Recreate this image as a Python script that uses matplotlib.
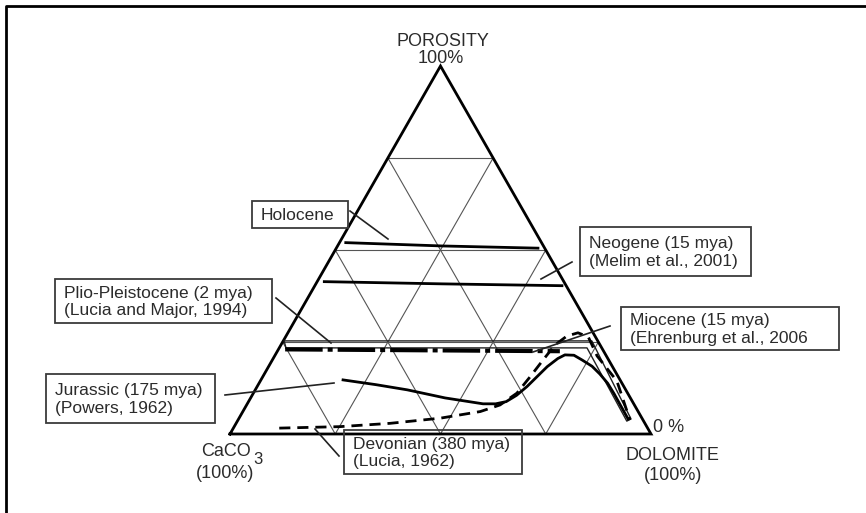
import matplotlib.pyplot as plt
import matplotlib.patches as patches
from matplotlib.lines import Line2D
import numpy as np

plt.rcParams['font.family'] = ['Liberation Sans', 'DejaVu Sans']

# ternary data: dolomite (%) and porosity (%), CaCO3 = rest
holocene_dol = [1.5, 24.8, 47.9]
holocene_por = [52.0, 51.1, 50.5]

neogene_dol = [1.7, 30.0, 58.7]
neogene_por = [41.4, 40.8, 40.3]

miocene_dol = [1.6, 67.1]
miocene_por = [23.0, 22.5]

plio_dol = [1.6, 73.1, 92.5, 93.2, 73.3, 0.2, 1.6]
plio_por = [23.4, 23.4, 3.5, 4.1, 25.3, 25.3, 23.4]

jurassic_dol = [19.5, 28.0, 36.1, 46.2, 56.0, 59.0, 61.2, 62.8, 64.1, 66.2, 67.6, 68.8, 71.0,
                73.6, 76.8, 79.7, 82.8, 85.8, 92.5]
jurassic_por = [14.7, 13.4, 12.0, 9.8, 8.2, 8.2, 8.8, 10.5, 12.9, 18.3, 20.5, 21.5, 21.4,
                20.1, 18.4, 16.3, 13.8, 10.9, 4.1]

devonian_dol = [10.9, 25.1, 36.6, 47.8, 56.4, 60.2, 62.6, 63.5, 64.3, 65.1, 66.7, 68.9, 71.9,
                76.6, 84.7, 93.1]
devonian_por = [1.6, 2.0, 2.9, 4.3, 6.1, 7.9, 11.1, 15.5, 20.1, 24.2, 26.6, 27.5, 26.4,
                21.2, 14.4, 3.8]

grid_levels = [25, 50, 75]

# label boxes: (text, left, top, right, bottom) in pixels, leader start/end in pixels
labels = [
    ('Holocene', (252, 201, 348, 228), (350, 211), (388, 239)),
    ('Neogene (15 mya)\n(Melim et al., 2001)', (580, 227, 751, 276), (572, 262), (541, 279)),
    ('Plio-Pleistocene (2 mya)\n(Lucia and Major, 1994)', (55, 279, 272, 323), (276, 298), (331, 343)),
    ('Miocene (15 mya)\n(Ehrenburg et al., 2006', (621, 307, 839, 350), (610, 326), (533, 352)),
    ('Jurassic (175 mya)\n(Powers, 1962)', (46, 374, 215, 423), (225, 395), (334, 383)),
    ('Devonian (380 mya)\n(Lucia, 1962)', (344, 430, 522, 474), (315, 429), (339, 456)),
]

W, H = 866, 513
fig = plt.figure(figsize=(W / 100, H / 100), dpi=100)
ax = fig.add_axes([0, 0, 1, 1])
ax.set_xlim((0 - 230) / 4.21, (W - 230) / 4.21)
ax.set_ylim((434 - H) / 3.68, 434 / 3.68)
ax.axis('off')


def tern(dol, por):
    dol = np.asarray(dol, dtype=float)
    por = np.asarray(por, dtype=float)
    return dol + por / 2, por


def fpx(x, y):
    # pixel (top-left origin) -> figure fraction
    return x / W, 1 - y / H


# grid
gcol = '#555555'
for k in grid_levels:
    ax.plot([k / 2, 100 - k / 2], [k, k], color=gcol, lw=0.8)
    ax.plot([k, k + (100 - k) / 2], [0, 100 - k], color=gcol, lw=0.8)
    ax.plot([k, k / 2], [0, k], color=gcol, lw=0.8)

# triangle
ax.plot([0, 100, 50, 0], [0, 0, 100, 0], color='black', lw=2.0, solid_joinstyle='miter')

# trends
ax.plot(*tern(holocene_dol, holocene_por), color='black', lw=2.0)
ax.plot(*tern(neogene_dol, neogene_por), color='black', lw=2.0)
ax.plot(*tern(plio_dol, plio_por), color='#222222', lw=1.0)
ax.plot(*tern(miocene_dol, miocene_por), color='black', lw=3.0,
        linestyle=(0, (9, 1.2, 1.2, 1.2)))
ax.plot(*tern(jurassic_dol, jurassic_por), color='black', lw=2.0)
ax.plot(*tern(devonian_dol, devonian_por), color='black', lw=2.0,
        linestyle=(0, (4, 2.5)))

tcol = '#2b2b2b'
fs = 12.5

for txt, (l, t, r, b), p0, p1 in labels:
    x0, y0 = fpx(l, b)
    x1, y1 = fpx(r, t)
    fig.add_artist(patches.Rectangle((x0, y0), x1 - x0, y1 - y0, transform=fig.transFigure,
                                     fill=False, edgecolor='#3a3a3a', lw=1.3))
    fig.text(*fpx(l + 9, (t + b) / 2 + 1), txt, ha='left', va='center', fontsize=fs,
             color=tcol, linespacing=1.2)
    a, c = fpx(*p0)
    bb, d = fpx(*p1)
    fig.add_artist(Line2D([a, bb], [c, d], transform=fig.transFigure, color='#222222', lw=1.2))

# corner labels
fig.text(*fpx(443, 42), 'POROSITY', ha='center', va='center', fontsize=13, color=tcol)
fig.text(*fpx(441, 59), '100%', ha='center', va='center', fontsize=13, color=tcol)
fig.text(*fpx(669, 427), '0 %', ha='center', va='center', fontsize=13, color=tcol)
fig.text(*fpx(672, 455), 'DOLOMITE', ha='center', va='center', fontsize=13, color=tcol)
fig.text(*fpx(673, 476), '(100%)', ha='center', va='center', fontsize=13, color=tcol)
fig.text(*fpx(226, 452), 'CaCO', ha='center', va='center', fontsize=13, color=tcol)
fig.text(*fpx(258, 459), '3', ha='center', va='center', fontsize=12, color=tcol)
fig.text(*fpx(225, 474), '(100%)', ha='center', va='center', fontsize=13, color=tcol)

# cropped frame
fig.add_artist(Line2D([6 / W, 6 / W, 1], [0, 1 - 6 / H, 1 - 6 / H],
                      transform=fig.transFigure, color='black', lw=2.0))

fig.savefig('out.png', dpi=100)
